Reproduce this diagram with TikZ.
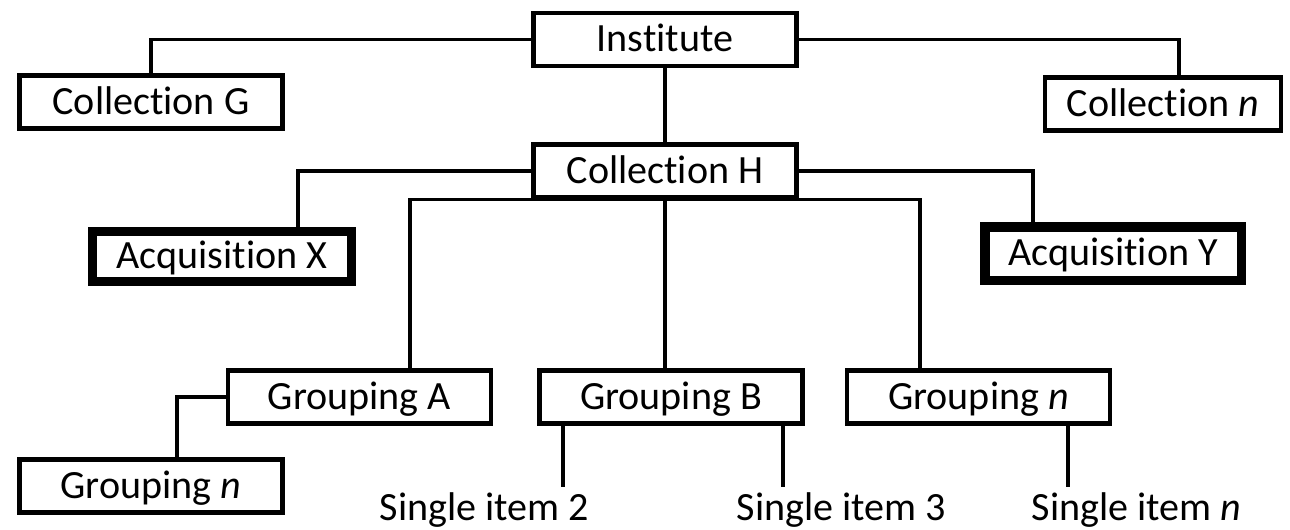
\documentclass[tikz,border=0pt]{standalone}
\usepackage{fontspec}
\setmainfont{Carlito}[Ligatures=NoCommon]
\usetikzlibrary{calc,positioning}
\tikzset{
    block/.style = {draw, rectangle, line width=2.3pt,
        minimum height=1.06cm,
        minimum width=5.26cm, inner sep=0.1cm,
        text height=0.64cm, text depth=0.16cm, align=center},
    heavy/.style = {block, line width=5.4pt},
    leaf/.style = {inner sep=0pt, text height=0.66cm, anchor=base},
    link/.style = {draw, line width=2pt}
}

\begin{document}
\begin{tikzpicture}[auto, node distance=2cm, font=\fontsize{22.8pt}{27pt}\selectfont]
        \useasboundingbox (0,0) rectangle (25.8,-10.58);
        \node [block] (inst) at (13.3,-0.79) {Institute};
        \node [block, below of=inst, node distance=2.63cm] (colH) {Collection H};
        \node [block] (colG) at (3.02,-2.04) {Collection G};
        \node [block, minimum width=4.72cm] (colN) at (23.26,-2.08) {Collection \textit{n}};
        \node [heavy, minimum width=5.17cm, minimum height=0.99cm] (acqX) at (4.44,-5.13) {Acquisition X};
        \node [heavy, minimum width=5.13cm, minimum height=1.07cm] (acqY) at (22.26,-5.07) {Acquisition Y};
        \node [block] (grpA) at (7.19,-7.94) {Grouping A};
        \node [block, right of=grpA, node distance=6.23cm] (grpB) {Grouping B};
        \node [block, right of=grpB, node distance=6.15cm] (grpN) {Grouping \textit{n}};
        \node [block] (subN) at (3.02,-9.72) {Grouping \textit{n}};
        \node [leaf] (item2) at (9.69,-10.40) {Single item 2};
        \node [leaf] (item3) at (16.83,-10.40) {Single item 3};
        \node [leaf] (itemN) at (22.73,-10.40) {Single item \textit{n}};
        \draw [link] (inst.west) -| (colG.north);
        \draw [link] (inst.east) -| ([xshift=0.32cm]colN.north);
        \draw [link] (inst) -- (colH);
        \draw [link] (colH.west) -| ([xshift=1.52cm]acqX.north);
        \draw [link] (colH.east) -| ([xshift=-1.6cm]acqY.north);
        \draw [link] ([xshift=1.01cm]grpA.north) |- (colH.south) -| ([xshift=-1.17cm]grpN.north);
        \draw [link] (colH.south) -- (colH.south |- grpB.north);
        \draw [link] (grpA.west) -| ([xshift=0.52cm]subN.north);
        \draw [link] ([xshift=-2.16cm]grpB.south) -- ([xshift=-2.16cm]grpB.south |- item2.north);
        \draw [link] ([xshift=2.24cm]grpB.south) -- ([xshift=2.24cm]grpB.south |- item3.north);
        \draw [link] ([xshift=1.79cm]grpN.south) -- ([xshift=1.79cm]grpN.south |- itemN.north);
        \end{tikzpicture}
\end{document}
